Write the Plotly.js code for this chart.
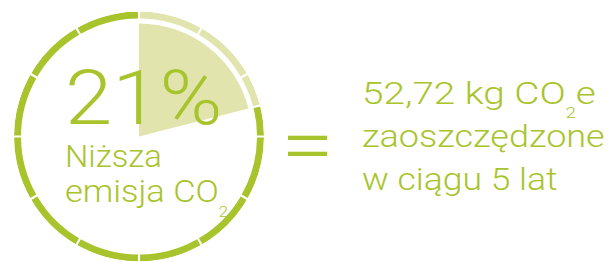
<!DOCTYPE html>
<html>
<head>
<meta charset="utf-8">
<script src="https://cdn.plot.ly/plotly-3.0.1.min.js"></script>
<style>html,body{margin:0;padding:0;background:#fff;}#chart{width:611px;height:262px;}</style>
</head>
<body>
<div id="chart"></div>
<script>
// ---- data ----
const percentLower = 21;            // % lower CO2 emission
const ringSegments = 12;            // number of dial segments
const headline = "21%";
const SUB2 = '<sub><span style="font-size:15px">2</span></sub>';
const labelLines = ["Niższa", "emisja CO" + SUB2];
const resultLines = ["52,72 kg CO" + SUB2 + "e", "zaoszczędzone", "w ciągu 5 lat"];

// ---- style ----
const DARK = "#a8c42c";
const LIGHT = "#e2e4ae";
const W = 611, H = 262;
const CX = 139, CY = 136.5, R = 125;
const RING_IN = 118, WEDGE_R = 113, GAP = 1.0;

// build ring segments split at the percentage boundary
const split = percentLower / 100 * 360;
const bounds = [];
for (let k = 0; k <= ringSegments; k++) bounds.push(k * 360 / ringSegments);
if (!bounds.includes(split)) bounds.push(split);
bounds.sort((a, b) => a - b);
const segTheta = [], segWidth = [], segColor = [];
for (let i = 0; i < bounds.length - 1; i++) {
  const a = bounds[i], b = bounds[i + 1];
  segTheta.push((a + b) / 2);
  segWidth.push(b - a - GAP);
  segColor.push(b <= split ? LIGHT : DARK);
}

const ring = {
  type: "barpolar",
  theta: segTheta, width: segWidth,
  r: segTheta.map(() => R - RING_IN), base: segTheta.map(() => RING_IN),
  marker: {color: segColor, line: {width: 0}},
  hoverinfo: "skip", showlegend: false
};
const wedge = {
  type: "barpolar",
  theta: [split / 2], width: [split],
  r: [WEDGE_R], base: [0],
  marker: {color: LIGHT, line: {width: 0}},
  hoverinfo: "skip", showlegend: false
};

const px = x => x / W, py = y => 1 - y / H;
const FONT = "Roboto";
const stretch = [], subDrop = [];
function ann(text, x, y, size, sx, drop, opts) {
  stretch.push(sx);
  subDrop.push(drop || 0);
  return Object.assign({
    text, x: px(x), y: py(y), xref: "paper", yref: "paper",
    xanchor: "left", yanchor: "middle", showarrow: false,
    font: {family: FONT, size, color: DARK, weight: 300}
  }, opts || {});
}

const annotations = [
  ann(headline, 63, 98, 76, 1.12),
  ann(labelLines[0], 63, 156, 31, 1.06),
  ann(labelLines[1], 63, 193, 31, 1.11, 15),
  ann("=", 279, 145, 80, 1.2),
  ann(resultLines[0], 360, 94.5, 32, 1.21, 14),
  ann(resultLines[1], 360, 136, 32, 1.125),
  ann(resultLines[2], 360, 179, 32, 1.11)
];

const layout = {
  width: W, height: H,
  margin: {l: 0, r: 0, t: 0, b: 0},
  paper_bgcolor: "#fff",
  showlegend: false,
  polar: {
    domain: {x: [px(CX - R), px(CX + R)], y: [py(CY + R), py(CY - R)]},
    bgcolor: "rgba(0,0,0,0)",
    radialaxis: {visible: false, range: [0, R]},
    angularaxis: {visible: false, rotation: 90, direction: "clockwise"}
  },
  annotations
};

const gd = document.getElementById("chart");
Plotly.newPlot(gd, [wedge, ring], layout, {staticPlot: true, displayModeBar: false}).then(() => {
  gd.querySelectorAll("g.annotation").forEach(g => {
    const i = +g.getAttribute("data-index");
    const t = g.querySelector("text.annotation-text");
    if (!t) return;
    const d = subDrop[i];
    if (d) {
      t.querySelectorAll("tspan[dy]").forEach(ts => {
        const v = parseFloat(ts.getAttribute("dy"));
        if (v > 0) ts.setAttribute("dy", d + "px");
        else if (v < 0) ts.setAttribute("dy", (-d) + "px");
      });
    }
    const s = stretch[i];
    if (!s || s === 1) return;
    const bb = t.getBBox();
    const prev = t.getAttribute("transform") || "";
    t.setAttribute("transform", prev + ` translate(${bb.x * (1 - s)},0) scale(${s},1)`);
  });
});
</script>
</body>
</html>
